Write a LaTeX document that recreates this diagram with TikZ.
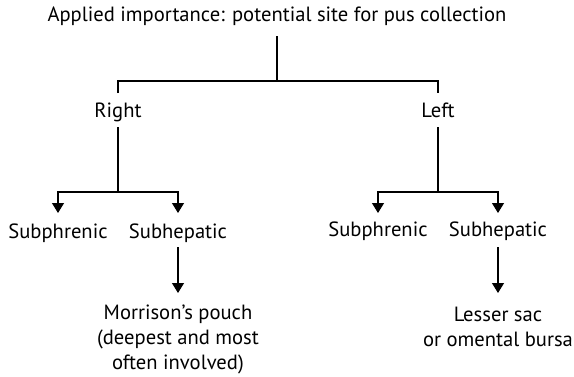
\documentclass[tikz,border=0pt]{standalone}
\usepackage{fontspec}
\setmainfont{PT Sans}
\usetikzlibrary{arrows.meta}
\begin{document}
\begin{tikzpicture}[x=1pt,y=-1pt,
  lbl/.style={font=\fontsize{20.6}{25}\selectfont, inner sep=0pt, anchor=base, align=center},
  ln/.style={line width=1.2pt, line cap=butt},
  arr/.style={ln, -{Triangle[width=12pt,length=10pt]}}]
\useasboundingbox (0,0) rectangle (574,376);
% nodes
\node[lbl] (title) at (277,21) {Applied importance: potential site for pus collection};
\node[lbl] (right) at (118,117) {Right};
\node[lbl] (left)  at (438,117) {Left};
\node[lbl] (rsp) at (58,238)  {Subphrenic};
\node[lbl] (rsh) at (178,238) {Subhepatic};
\node[lbl] (lsp) at (378,236) {Subphrenic};
\node[lbl] (lsh) at (498,236) {Subhepatic};
\node[lbl] (mor) at (178,369) {Morrison’s pouch\\(deepest and most\\often involved)};
\node[lbl] (les) at (498,346) {Lesser sac\\or omental bursa};
% junctions
\coordinate (tj) at (277,81);
\coordinate (rj) at (118,192);
\coordinate (lj) at (438,192);
% connectors
\draw[ln] ([yshift=-15pt]title.base) -- (tj);
\draw[ln] ([yshift=24pt]right.base) |- (tj) -| ([yshift=24pt]left.base);
\draw[ln] ([yshift=-10pt]right.base) -- (rj);
\draw[ln] ([yshift=-10pt]left.base) -- (lj);
\draw[arr] (rj) -| ([yshift=25pt]rsp.base);
\draw[arr] (rj) -| ([yshift=25pt]rsh.base);
\draw[arr] (lj) -| ([yshift=23pt]lsp.base);
\draw[arr] (lj) -| ([yshift=23pt]lsh.base);
\draw[arr] ([yshift=-9pt]rsh.base) -- ([yshift=76pt]mor.base);
\draw[arr] ([yshift=-11pt]lsh.base) -- ([yshift=53pt]les.base);
\end{tikzpicture}
\end{document}
